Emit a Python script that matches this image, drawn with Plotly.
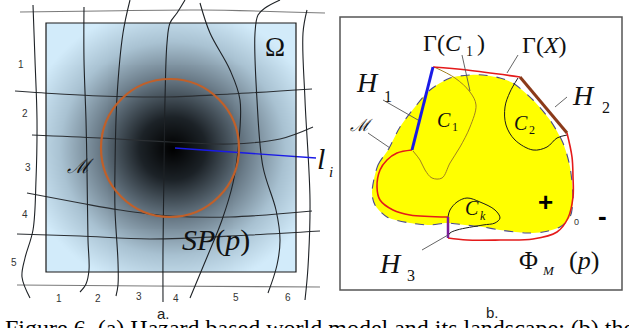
import numpy as np
import plotly.graph_objects as go

W, H = 629, 328

# ---------------- panel a data ----------------
rect_a = [46, 296, 23, 272]          # x0, x1, y0, y1
spot_center = [172, 148]
circle_center = [170, 148]
circle_radius = 69
probe_x = [175, 316]
probe_y = [148, 158]

grid_h = {
    "top": ([20, 100, 200, 325], [12, 11, 10, 13]),
    "h1": ([15, 60, 100, 165, 230, 312], [91, 94, 96, 97, 94, 89]),
    "h2": ([32, 100, 170, 230, 280, 313], [135, 138, 142, 144, 139, 127]),
    "h3": ([27, 80, 120, 170, 230, 312], [193, 203, 210, 216, 217, 211]),
    "h4": ([17, 80, 150, 250, 320], [234, 236, 239, 235, 231]),
    "bot": ([17, 150, 320], [285, 286, 287]),
}
grid_v = {
    "v0": ([33, 35, 37, 36, 33, 25, 22, 30], [5, 60, 120, 180, 230, 258, 277, 298]),
    "v1": ([84, 84, 86, 87, 88, 89, 86, 80], [7, 60, 120, 170, 240, 270, 284, 292]),
    "v2": ([130, 123, 117, 115, 115, 118, 118, 116], [0, 33, 97, 167, 210, 262, 285, 296]),
    "v3": ([185, 177, 170, 167, 165, 164, 163, 163], [0, 13, 23, 43, 100, 170, 250, 302]),
    "v4": ([200, 210, 230, 240, 238, 233, 222, 210, 190], [3, 33, 70, 100, 150, 183, 220, 250, 298]),
    "v5": ([280, 265, 258, 255, 257, 263, 276, 280, 277, 268], [0, 8, 15, 33, 100, 167, 210, 240, 265, 293]),
    "v6": ([307, 303, 305, 310, 308, 305], [10, 33, 100, 200, 267, 300]),
}
row_labels = ["1", "2", "3", "4", "5"]
row_label_x = [21, 25, 28, 25, 14]
row_label_y = [64, 113, 167, 214, 262]
col_labels = ["1", "2", "3", "4", "5", "6"]
col_label_x = [59, 98, 139, 176, 236, 288]
col_label_y = [298, 298, 296, 298, 297, 297]

# ---------------- panel b data ----------------
rect_b = [340, 622, 17, 290]
blob_x = [372, 378, 388, 400, 415, 430, 450, 470, 483, 500, 513, 533, 550, 563, 570, 573, 570, 560,
          543, 527, 500, 483, 465, 447, 430, 410, 387, 375, 372]
blob_y = [193, 165, 150, 127, 107, 90, 78, 75, 75, 78, 83, 100, 120, 143, 167, 200, 217, 227,
          232, 233, 230, 227, 225, 223, 225, 223, 217, 205, 193]
red1_x = [433, 467, 520]
red1_y = [67, 70, 77]
h2_x = [520, 567]
h2_y = [77, 133]
red2_x = [567, 572, 573, 573, 568, 557, 533, 500, 467, 448]
red2_y = [133, 157, 177, 197, 218, 232, 239, 240, 240, 238]
h3_x = [448, 448]
h3_y = [238, 217]
red3_x = [448, 410, 393, 380, 377, 380, 387, 397, 412]
red3_y = [217, 215, 210, 200, 187, 170, 160, 153, 150]
h1_x = [412, 433]
h1_y = [150, 67]
c1_x = [434, 455, 470, 476, 470, 460, 450, 442, 432, 425, 420, 413]
c1_y = [67, 78, 92, 105, 127, 147, 163, 178, 178, 170, 160, 151]
c2_x = [518, 510, 505, 506, 515, 533, 547, 557, 567]
c2_y = [78, 92, 107, 125, 140, 150, 147, 138, 135]
ck_x = [448, 450, 457, 467, 480, 495, 500, 495, 483, 457, 450, 448]
ck_y = [217, 210, 202, 198, 202, 210, 218, 223, 225, 230, 233, 236]
leaders = [
    ([462, 470], [55, 91]),     # Gamma(C1)
    ([518, 507], [55, 73]),     # Gamma(X)
    ([567, 555], [97, 107]),    # H2
    ([383, 418], [100, 120]),   # H1
    ([368, 390], [133, 148]),   # M
    ([422, 448], [250, 235]),   # H3
]

fig = go.Figure()

# radial shading of panel a
gx = np.linspace(rect_a[0] + 1, rect_a[1] - 1, 126)
gy = np.linspace(rect_a[2] + 1, rect_a[3] - 1, 126)
GX, GY = np.meshgrid(gx, gy)
D = np.sqrt((GX - spot_center[0]) ** 2 + ((GY - spot_center[1]) * 1.05) ** 2)
Z = np.clip(D / 150.0, 0, 1)
fig.add_trace(go.Heatmap(
    x=gx, y=gy, z=Z, zmin=0, zmax=1, zsmooth="best", showscale=False, hoverinfo="skip",
    colorscale=[[0, "#000000"], [0.22, "#1c2227"], [0.5, "#6b7c89"], [0.75, "#a9c2d2"], [1, "#d2ebfa"]],
))

# grid lines
for name, (xs, ys) in grid_h.items():
    col = "#7a7a7a" if name in ("top", "bot") else "#2b2f33"
    fig.add_trace(go.Scatter(x=xs, y=ys, mode="lines", line=dict(color=col, width=1.1, shape="spline"),
                             hoverinfo="skip"))
for name, (xs, ys) in grid_v.items():
    fig.add_trace(go.Scatter(x=xs, y=ys, mode="lines", line=dict(color="#1e2226", width=1.1, shape="spline"),
                             hoverinfo="skip"))

fig.add_trace(go.Scatter(x=probe_x, y=probe_y, mode="lines", line=dict(color="#1a1ae6", width=1.4),
                         hoverinfo="skip"))

# panel b: blob
fig.add_trace(go.Scatter(x=blob_x, y=blob_y, mode="lines", fill="toself", fillcolor="#ffff00",
                         line=dict(color="#4a4a8c", width=1.1, dash="dash", shape="spline", smoothing=0.8),
                         hoverinfo="skip"))
for xs, ys, col, wd in [
    (c1_x, c1_y, "#a08020", 1.0),
    (c2_x, c2_y, "#1a1a1a", 1.0),
    (ck_x, ck_y, "#1a1a1a", 1.0),
]:
    fig.add_trace(go.Scatter(x=xs, y=ys, mode="lines", line=dict(color=col, width=wd, shape="spline"),
                             hoverinfo="skip"))
for xs, ys, col, wd, shp in [
    (red1_x, red1_y, "#e41a1a", 1.6, "spline"),
    (red2_x, red2_y, "#e41a1a", 1.6, "spline"),
    (red3_x, red3_y, "#e41a1a", 1.6, "spline"),
    (h2_x, h2_y, "#8b3a1a", 3.0, "linear"),
    (h3_x, h3_y, "#7a1a9a", 2.5, "linear"),
    (h1_x, h1_y, "#1a1ae6", 3.0, "linear"),
]:
    fig.add_trace(go.Scatter(x=xs, y=ys, mode="lines", line=dict(color=col, width=wd, shape=shp),
                             hoverinfo="skip"))
for xs, ys in leaders:
    fig.add_trace(go.Scatter(x=xs, y=ys, mode="lines", line=dict(color="#555555", width=0.9),
                             hoverinfo="skip"))

shapes = [
    dict(type="rect", x0=rect_a[0], x1=rect_a[1], y0=rect_a[2], y1=rect_a[3],
         line=dict(color="#1a1a1a", width=1.2), layer="above"),
    dict(type="circle", x0=circle_center[0] - circle_radius, x1=circle_center[0] + circle_radius,
         y0=circle_center[1] - circle_radius, y1=circle_center[1] + circle_radius,
         line=dict(color="#c0602a", width=2.2), layer="above"),
    dict(type="rect", x0=rect_b[0], x1=rect_b[1], y0=rect_b[2], y1=rect_b[3],
         line=dict(color="#555555", width=1.5), layer="below"),
]

SERIF = "Liberation Serif"
SANS = "Liberation Sans"
ann = []


def txt(x, y, s, size, family=SERIF, color="#111111", xa="center", ya="middle"):
    ann.append(dict(x=x, y=y, xref="x", yref="y", text=s, showarrow=False,
                    font=dict(family=family, size=size, color=color), xanchor=xa, yanchor=ya))


for s, x, y in zip(row_labels, row_label_x, row_label_y):
    txt(x, y, s, 10, SANS, "#333333")
for s, x, y in zip(col_labels, col_label_x, col_label_y):
    txt(x, y, s, 10, SANS, "#333333")

txt(275, 47, "Ω", 27)
txt(321, 158, "<i>l</i>", 30)
txt(331, 172, "<i>i</i>", 15)
txt(80, 166, "<i>ℳ</i>", 20)
txt(216, 240, "<i>SP</i>(<i>p</i>)", 30)
txt(163, 313, "a.", 15, SANS, "#222222")

txt(421, 43, "Γ(<i>C</i>", 24, xa="left")
txt(469, 51, "1", 14)
txt(475, 43, ")", 24, xa="left")
txt(544, 45, "Γ(<i>X</i>)", 24)
txt(583, 95, "<i>H</i>", 28)
txt(606, 107, "2", 16)
txt(367, 82, "<i>H</i>", 28)
txt(388, 96, "1", 16)
txt(361, 125, "<i>ℳ</i>", 17)
txt(444, 120, "<i>C</i>", 20)
txt(455, 127, "1", 12)
txt(521, 123, "<i>C</i>", 20)
txt(532, 130, "2", 12)
txt(472, 208, "<i>C</i>", 20)
txt(483, 216, "<i>k</i>", 12)
txt(545, 202, "<b>+</b>", 26, SANS, "#000000")
txt(576, 222, "0", 9, SANS, "#333333")
txt(602, 216, "<b>-</b>", 26, SANS, "#000000")
txt(528, 260, "Φ", 26)
txt(548, 270, "<i>M</i>", 13)
txt(584, 260, "(<i>p</i>)", 26)
txt(390, 263, "<i>H</i>", 28)
txt(411, 275, "3", 16)
txt(492, 312, "b.", 15, SANS, "#222222")

ann.append(dict(x=3 / W, y=1 - 313 / H, xref="paper", yref="paper",
                text="Figure 6. (a) Hazard based world model and its landscape; (b) the contour",
                showarrow=False, font=dict(family=SERIF, size=24, color="#000000"),
                xanchor="left", yanchor="top"))

fig.update_layout(
    width=W, height=H, autosize=False,
    margin=dict(l=0, r=0, t=0, b=0, pad=0),
    paper_bgcolor="white", plot_bgcolor="white",
    showlegend=False,
    xaxis=dict(range=[0, W], visible=False, fixedrange=True),
    yaxis=dict(range=[H, 0], visible=False, fixedrange=True),
    shapes=shapes, annotations=ann,
)
fig.write_html("out.html", config={"displayModeBar": False},
               post_script="document.body.style.margin='0';document.body.style.padding='0';")
